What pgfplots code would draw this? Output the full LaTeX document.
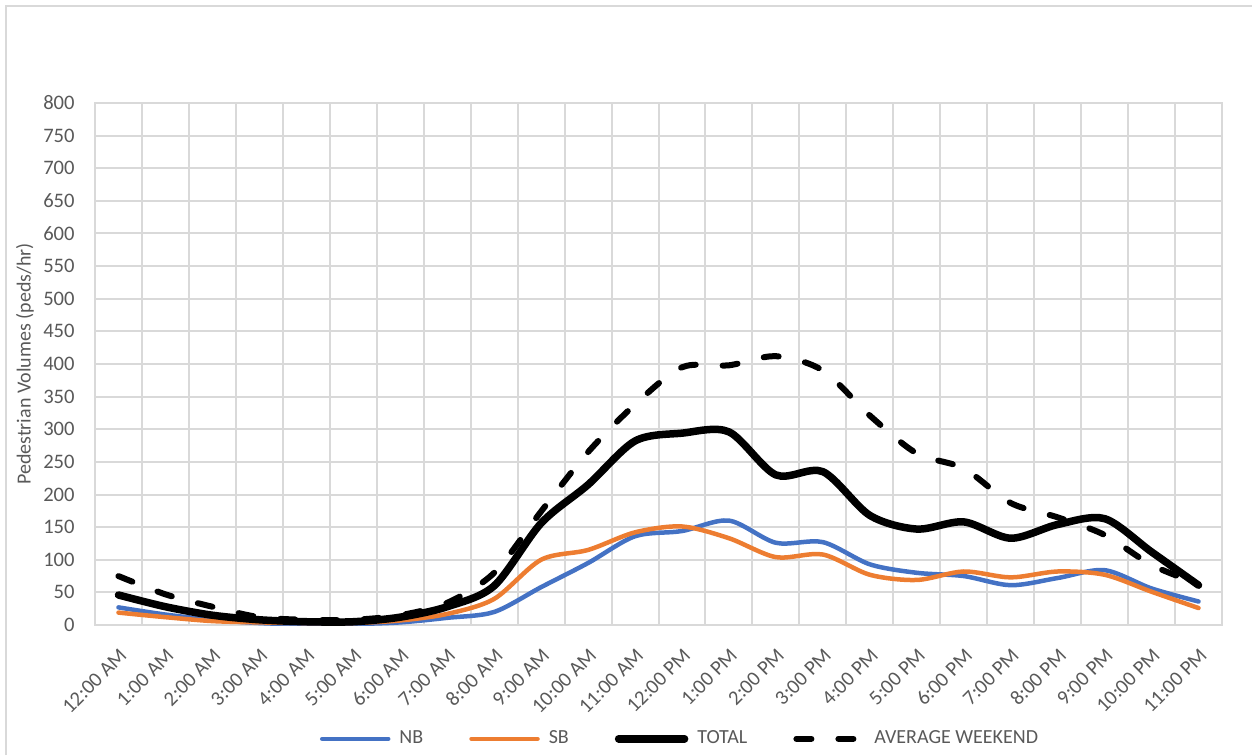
\documentclass[border=0pt]{standalone}
\usepackage{fontspec}
\setmainfont{Carlito}
\usepackage{pgfplots}
\pgfplotsset{compat=1.18}

\definecolor{nbblue}{HTML}{4472C4}
\definecolor{sborange}{HTML}{ED7D31}
\definecolor{gridgray}{HTML}{D9D9D9}
\definecolor{labelgray}{HTML}{595959}

% hourly pedestrian volumes, 0 = 12:00 AM ... 23 = 11:00 PM
\usepackage{pgfplotstable}
\pgfplotstableread{
hr  nb   sb   total  avg
0   27   19   46     75
1   16   12   28     47
2   8    6    15     28
3   3    4    8      12
4   1    3    5      8
5   1.5  3    5      8
6   4    7    12     15
7   11   17   28     34
8   20   40   60     80
9   58   100  156    174
10  95   115  215    265
11  136  142  282    338
12  144  151  294    395
13  160  133  296    398
14  126  104  230    412
15  127  108  235    390
16  93   77   168    321
17  80   69   147    263
18  75   82   158    240
19  61   73   133    187
20  72   82   154    165
21  84   77   163    138
22  56   51   112    92
23  36   26   61     63
}\peds

\begin{document}
\begin{tikzpicture}
\begin{axis}[
    width=563.5pt, height=261pt, scale only axis,
    xmin=-0.5, xmax=23.5, ymin=0, ymax=800,
    xtick={0,...,23},
    xticklabels={12:00 AM,1:00 AM,2:00 AM,3:00 AM,4:00 AM,5:00 AM,6:00 AM,7:00 AM,8:00 AM,9:00 AM,10:00 AM,11:00 AM,12:00 PM,1:00 PM,2:00 PM,3:00 PM,4:00 PM,5:00 PM,6:00 PM,7:00 PM,8:00 PM,9:00 PM,10:00 PM,11:00 PM},
    minor xtick={-0.5,0.5,...,23.5},
    ytick distance=50,
    xminorgrids=true, ymajorgrids=true,
    grid style={gridgray, line width=1pt},
    minor grid style={gridgray, line width=1pt},
    axis line style={gridgray, line width=1pt},
    major tick length=0pt, minor tick length=0pt,
    tick label style={font=\fontsize{10.3}{12}\selectfont, text=labelgray},
    /pgf/number format/assume math mode=true,
    xticklabel style={rotate=45, anchor=north east, inner sep=0pt},
    xticklabel shift=11pt,
    yticklabel style={inner sep=0pt, anchor=east},
    yticklabel shift=10pt,
    ylabel={Pedestrian Volumes (peds/hr)},
    ylabel style={font=\fontsize{10}{12}\selectfont, text=labelgray,
        at={(axis description cs:-0.0621,0.5)}, anchor=center},
    legend columns=-1,
    legend style={at={(axis description cs:0.52,-0.218)}, anchor=center,
        draw=none, fill=none, font=\fontsize{10}{12}\selectfont, text=labelgray,
        /tikz/every odd column/.append style={column sep=2.5pt},
        /tikz/every even column/.append style={column sep=21pt}},
    legend image code/.code={\draw[#1] (0pt,0pt) -- (33pt,0pt);},
    every axis plot/.append style={line cap=round, line join=round},
]
\addplot[nbblue, line width=2.25pt, smooth, tension=0.5] table[x=hr, y=nb] {\peds};
\addlegendentry{NB}
\addplot[sborange, line width=2.25pt, smooth, tension=0.5] table[x=hr, y=sb] {\peds};
\addlegendentry{SB}
\addplot[black, line width=3.75pt, smooth, tension=0.5] table[x=hr, y=total] {\peds};
\addlegendentry{TOTAL}
\addplot[black, line width=3pt, smooth, tension=0.5, dash pattern=on 7.5pt off 13.5pt] table[x=hr, y=avg] {\peds};
\addlegendentry{AVERAGE WEEKEND}
\end{axis}
% chart area frame (only left and top edges fall inside the picture)
\draw[gridgray, line width=1pt] (-44.25pt,-65pt) -- (-44.25pt,309.25pt) -- (578.5pt,309.25pt);
\pgfresetboundingbox
\path[use as bounding box] (-47.5pt,-65pt) rectangle (578.5pt,312.5pt);
\end{tikzpicture}
\end{document}
